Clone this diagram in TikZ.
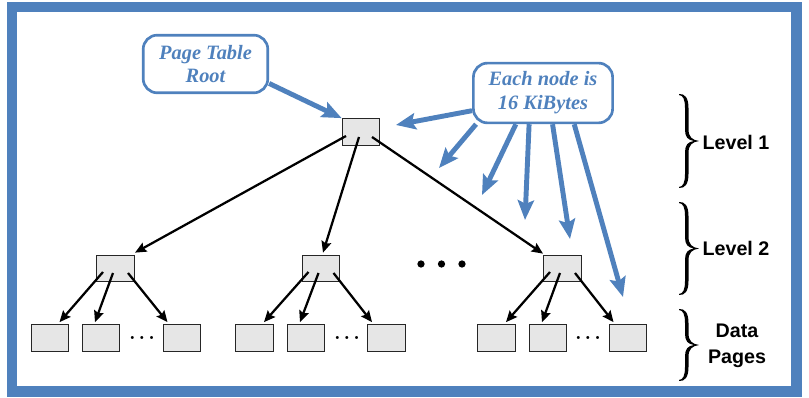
\documentclass[tikz,border=0pt]{standalone}
\usepackage{fontspec}
\setmainfont{Liberation Serif}
\setsansfont{Liberation Sans}
\usetikzlibrary{arrows.meta,calc}
\definecolor{ppblue}{HTML}{4F81BD}
\definecolor{boxgray}{HTML}{E6E6E6}
\newfontfamily\lmfont{Latin Modern Roman}
\tikzset{
    pagebox/.style={draw=black!85,fill=boxgray,line width=0.9pt,inner sep=0pt,
                    minimum width=26.6pt,minimum height=18.8pt},
    treearrow/.style={line width=1.6pt,-{Stealth[length=8pt,width=7pt,inset=1.2pt]}},
    notearrow/.style={ppblue,line width=3.5pt,-{Stealth[length=14pt,width=11.5pt,inset=2.5pt]}},
    note/.style={draw=ppblue,line width=1.9pt,rounded corners=10pt,fill=white,text=ppblue,
                 align=center,inner sep=0pt,font=\bfseries\itshape\fontsize{14.5}{17}\selectfont},
    lvltext/.style={font=\sffamily\bfseries\fontsize{14}{18.4}\selectfont,align=center},
    smalldots/.style={font=\lmfont\bfseries\fontsize{15}{15}\selectfont,anchor=base,inner sep=0pt},
    rbrace/.pic={
        \fill (0,-#1) .. controls (6,-#1-0.5) and (9.5,-#1+4) .. (9.5,-#1+14) -- (9.5,-12)
              .. controls (9.5,-4) and (13,-1) .. (20,0)
              .. controls (13,1) and (9.5,4) .. (9.5,12) -- (9.5,#1-14)
              .. controls (9.5,#1-4) and (6,#1+0.5) .. (0,#1)
              -- (0,#1-1) .. controls (4,#1-1.5) and (6,#1-5) .. (6,#1-14) -- (6,11)
              .. controls (6,4) and (9,0.8) .. (15,0)
              .. controls (9,-0.8) and (6,-4) .. (6,-11) -- (6,-#1+14)
              .. controls (6,-#1+5) and (4,-#1+1.5) .. (0,-#1+1) -- cycle;
    },
  }

\begin{document}
\begin{tikzpicture}[x=0.025cm,y=-0.025cm]
        \useasboundingbox (0,0) rectangle (809,398);
        \draw[ppblue,line width=7.8pt] (12,7) rectangle (796.5,391.5);
        % tree
        \node[pagebox] (root) at (361,132) {};
        \node[pagebox] (lvA) at (115.5,268.5) {};
        \node[pagebox] (lvB) at (321,268.5) {};
        \node[pagebox] (lvC) at (562.5,268.5) {};
        \node[pagebox] (pgA1) at (50,338) {};
        \node[pagebox] (pgA2) at (101,338) {};
        \node[pagebox] (pgA3) at (182,338) {};
        \node[pagebox] (pgB1) at (254.5,338) {};
        \node[pagebox] (pgB2) at (306,338) {};
        \node[pagebox] (pgB3) at (386.5,338) {};
        \node[pagebox] (pgC1) at (496.5,338) {};
        \node[pagebox] (pgC2) at (548,338) {};
        \node[pagebox] (pgC3) at (628,338) {};
        \draw[treearrow] ([shift={(-15,4)}]root.center) -- ([shift={(19.5,-2)}]lvA.north);
        \draw[treearrow] ([shift={(-2,5)}]root.center) -- ([shift={(2,-2)}]lvB.north);
        \draw[treearrow] ([shift={(11,5)}]root.center) -- ([shift={(-19.5,-1)}]lvC.north);
        \foreach \up/\pa/\pb/\pc in {lvA/pgA1/pgA2/pgA3,lvB/pgB1/pgB2/pgB3,lvC/pgC1/pgC2/pgC3}{
            \draw[treearrow] ([shift={(-12.5,3.5)}]\up.center) -- ([shift={(9.5,-2)}]\pa.north);
            \draw[treearrow] ([shift={(-2.5,4.5)}]\up.center) -- ([shift={(-6,-2)}]\pb.north);
            \draw[treearrow] ([shift={(12.5,4.5)}]\up.center) -- ([shift={(-14.5,-2)}]\pc.north);
        }
        \node[smalldots] (dotsA) at (142,340) {.\kern2.2pt.\kern2.2pt.};
        \node[smalldots] (dotsB) at (347,340) {.\kern2.2pt.\kern2.2pt.};
        \node[smalldots] (dotsC) at (588,340) {.\kern2.2pt.\kern2.2pt.};
        \foreach \x in {421,441.5,462} \fill (\x,264) circle (2.6pt);
        % callouts
        \node[note,minimum width=88.6pt,minimum height=41pt] (rootnote) at (205.5,64) {Page Table\\Root};
        \node[note,minimum width=99pt,minimum height=42.5pt] (sizenote) at (543,93) {Each node is\\16 KiBytes};
        \coordinate (t1) at (396,125);
        \coordinate (t2) at (439,168);
        \coordinate (t3) at (482,195);
        \coordinate (t4) at (525,220);
        \coordinate (t5) at (570,239);
        \coordinate (t6) at (623,297);
        \draw[notearrow] (rootnote.-17) -- (root.north west);
        \draw[notearrow] (sizenote.194) -- (t1);
        \draw[notearrow] (sizenote.205) -- (t2);
        \draw[notearrow] (sizenote.229) -- (t3);
        \draw[notearrow] (sizenote.246) -- (t4);
        \draw[notearrow] (sizenote.287) -- (t5);
        \draw[notearrow] (sizenote.315) -- (t6);
        % levels
        \pic at (679,141) {rbrace=47};
        \pic at (679,248.5) {rbrace=46.5};
        \pic at (679,345) {rbrace=36};
        \node[lvltext] (lv1) at (736,142) {Level 1};
        \node[lvltext] (lv2) at (736,248) {Level 2};
        \node[lvltext] (lv3) at (737,346) {Data\\Pages};
\end{tikzpicture}
\end{document}
